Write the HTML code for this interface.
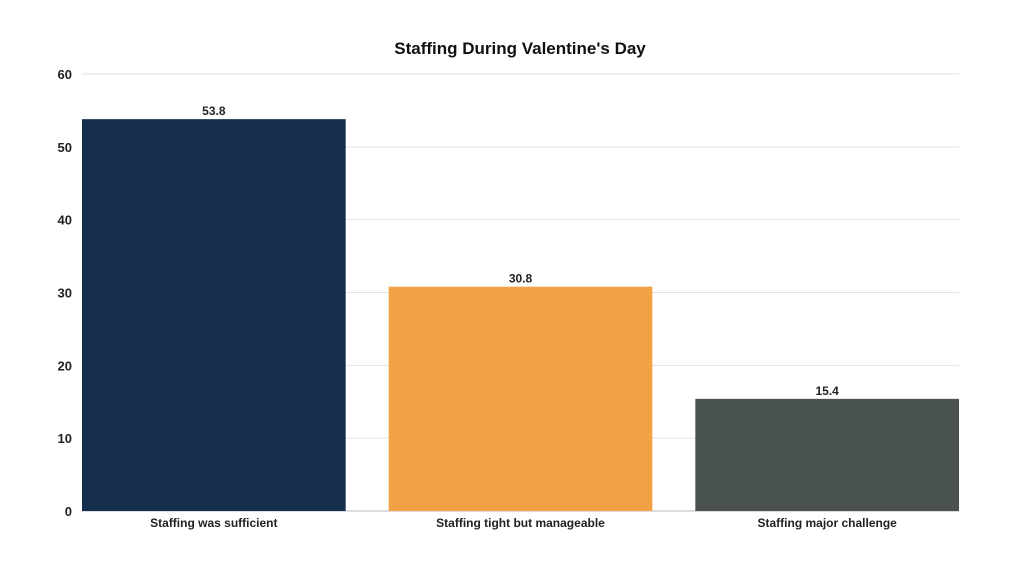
<!DOCTYPE html>
<html><head><meta charset="utf-8"><style>
html,body{margin:0;padding:0;background:#fff;}
svg text{font-family:"Liberation Sans",sans-serif;}
</style></head><body>
<svg id="chart" width="1024" height="576" xmlns="http://www.w3.org/2000/svg">
<text x="520" y="54" text-anchor="middle" font-size="17" font-weight="bold" fill="#111">Staffing During Valentine's Day</text>
<g id="grid"></g><g id="bars"></g><g id="labels"></g>
</svg>
<script>
const categories = ["Staffing was sufficient", "Staffing tight but manageable", "Staffing major challenge"];
const values = [53.8, 30.8, 15.4];
const valueLabels = ["53.8", "30.8", "15.4"];
const ticks = [0, 10, 20, 30, 40, 50, 60];
const colors = ["#152e4d", "#f2a145", "#4a5250"];
const NS = "http://www.w3.org/2000/svg";
const x0 = 82, x1 = 959, yTop = 74, yBot = 511, yMax = 60;
const y = v => yBot - (v / yMax) * (yBot - yTop);
const band = (x1 - x0) / categories.length;
const gap = 43;
const barW = band - gap * 2 / 3 * 1.0;
const bx = i => x0 + i * (barW + gap);
function mk(tag, attrs, parent) { const e = document.createElementNS(NS, tag); for (const k in attrs) e.setAttribute(k, attrs[k]); parent.appendChild(e); return e; }
const grid = document.getElementById('grid'), bars = document.getElementById('bars'), labels = document.getElementById('labels');
ticks.forEach(t => {
  const l = mk('line', {x1: x0, x2: x1, y1: y(t), y2: y(t), stroke: t === 0 ? '#bbb' : '#e2e2e2', 'stroke-width': 1}, grid);
  
  
  const tx = mk('text', {x: 72, y: y(t) + 5, 'text-anchor': 'end', 'font-size': 13, 'font-weight': 'bold', fill: '#222'}, grid);
  tx.textContent = t;
  
  
});
categories.forEach((c, i) => {
  const r = mk('rect', {x: bx(i), y: y(values[i]), width: barW, height: yBot - y(values[i]), fill: colors[i]}, bars);
  
  
  const v = mk('text', {x: bx(i) + barW / 2, y: y(values[i]) - 4, 'text-anchor': 'middle', 'font-size': 12, 'font-weight': 'bold', fill: '#222'}, labels);
  v.textContent = valueLabels[i];
  
  
  const cl = mk('text', {x: bx(i) + barW / 2, y: 527, 'text-anchor': 'middle', 'font-size': 12, 'font-weight': 'bold', fill: '#222'}, labels);
  cl.textContent = c;
  
  
});
</script>
</body></html>
